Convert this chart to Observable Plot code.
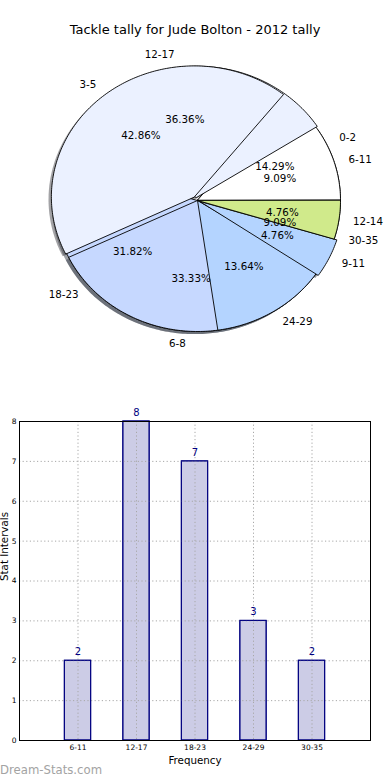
<!DOCTYPE html>
<html><head><meta charset="utf-8">
<script src="https://cdn.jsdelivr.net/npm/d3@7"></script>
<script src="https://cdn.jsdelivr.net/npm/@observablehq/plot@0.6"></script>
<style>
body{margin:0;background:#fff;font-family:"DejaVu Sans",sans-serif;}
#wrap{position:relative;width:390px;height:780px;overflow:hidden;background:#fff;}
#title{position:absolute;left:0;top:21px;width:390px;text-align:center;font-size:13px;line-height:18px;color:#000;}
#pie{position:absolute;left:0;top:40px;}
#bar{position:absolute;left:0;top:380px;}
#mark{position:absolute;left:0;top:763px;font-size:11.7px;line-height:14px;color:#a3a3a3;}
</style></head>
<body>
<div id="wrap">
  <div id="title">Tackle tally for Jude Bolton - 2012 tally</div>
  <div id="pie"></div>
  <div id="bar"></div>
  <div id="mark">Dream-Stats.com</div>
</div>
<script>
// ---- data ----
const tallyLabels = ["6-11", "12-17", "18-23", "24-29", "30-35"];
const tallyCounts = [2, 8, 7, 3, 2];
const groupLabels = ["0-2", "3-5", "6-8", "9-11", "12-14"];
const groupCounts = [3, 9, 7, 1, 1];
const sliceColors = ["#ffffff", "#ebf1ff", "#c6d8ff", "#b4d4ff", "#d0ea8b"];
const tallyExplode = [0, 0.025, 0, 0, 0];
const groupExplode = [0, 0.035, 0, 0.02, 0];
const yTicks = [0, 1, 2, 3, 4, 5, 6, 7, 8];

// ---- pie geometry (unit radius, matplotlib-style: CCW from 3 o'clock) ----
const rx = 143, ry = 131, pieW = 390, pieH = 340, cx = 197, cy = 160;
function buildWedges(labels, counts, explode, tag) {
  const total = d3.sum(counts);
  let acc = 0;
  return counts.map((c, i) => {
    const t1 = acc / total * 360; acc += c; const t2 = acc / total * 360;
    const mid = (t1 + t2) / 2 * Math.PI / 180;
    const e = explode[i];
    const ox = e * Math.cos(mid), oy = e * Math.sin(mid);
    const n = Math.max(2, Math.ceil(t2 - t1));
    const pts = [[ox, oy]];
    for (let k = 0; k <= n; k++) {
      const t = (t1 + (t2 - t1) * k / n) * Math.PI / 180;
      pts.push([ox + Math.cos(t), oy + Math.sin(t)]);
    }
    return {
      key: tag + i, label: labels[i], color: sliceColors[i % sliceColors.length], pts,
      lx: ox + 1.1 * Math.cos(mid), ly: oy + 1.1 * Math.sin(mid),
      px: ox + 0.6 * Math.cos(mid), py: oy + 0.6 * Math.sin(mid),
      pct: (100 * c / total).toFixed(2) + "%"
    };
  });
}
const A = buildWedges(tallyLabels, tallyCounts, tallyExplode, "A");
const B = buildWedges(groupLabels, groupCounts, groupExplode, "B");
const drawOrder = [A[0], B[0], A[1], A[2], B[1], B[2], A[3], A[4], B[3], B[4]];
const allW = A.concat(B);

const shadowMarks = drawOrder.map(w => {
  const c = d3.rgb(w.color);
  const sc = d3.rgb(c.r * 0.3, c.g * 0.3, c.b * 0.3).formatHex();
  return Plot.line(w.pts.map(([x, y]) => [x - 0.02, y - 0.02]),
    {x: d => d[0], y: d => d[1], curve: "linear-closed", fill: sc, fillOpacity: 0.5, stroke: "none"});
});
const wedgeMarks = drawOrder.map(w =>
  Plot.line(w.pts, {x: d => d[0], y: d => d[1], curve: "linear-closed", fill: w.color,
    stroke: "black", strokeWidth: 0.9, strokeLinejoin: "miter"}));

const pie = Plot.plot({
  width: pieW, height: pieH,
  marginTop: 0, marginBottom: 0, marginLeft: 0, marginRight: 0,
  x: {domain: [-cx / rx, (pieW - cx) / rx], axis: null},
  y: {domain: [-(pieH - cy) / ry, cy / ry], axis: null},
  style: {fontFamily: "DejaVu Sans", background: "white", overflow: "visible"},
  marks: [
    ...shadowMarks,
    ...wedgeMarks,
    Plot.text(allW.filter(w => w.lx >= 0), {x: "lx", y: "ly", text: "label", textAnchor: "start", fontSize: 10.3, fill: "black"}),
    Plot.text(allW.filter(w => w.lx < 0), {x: "lx", y: "ly", text: "label", textAnchor: "end", fontSize: 10.3, fill: "black"}),
    Plot.text(allW, {x: "px", y: "py", text: "pct", fontSize: 10.3, fill: "black"})
  ]
});
document.getElementById("pie").appendChild(pie);

// ---- bar chart ----
const bars = tallyLabels.map((b, i) => ({bin: b, pos: i + 1, value: tallyCounts[i]}));
const positions = bars.map(d => d.pos);
const gridStyle = {stroke: "#a8a8a8", strokeOpacity: 1, strokeDasharray: "1.2,2.4", strokeWidth: 1};
const bar = Plot.plot({
  width: 390, height: 400,
  marginTop: 41, marginBottom: 40, marginLeft: 19, marginRight: 20,
  x: {domain: [0, 6]},
  y: {domain: [0, 8]},
  style: {fontFamily: "DejaVu Sans", background: "white", overflow: "visible"},
  marks: [
    Plot.rect(bars, {x1: d => d.pos - 0.225, x2: d => d.pos + 0.225, y1: 0, y2: "value",
      fill: "navy", fillOpacity: 0.2, stroke: "navy", strokeWidth: 1}),
    Plot.gridX({ticks: positions, ...gridStyle}),
    Plot.gridY({ticks: yTicks, ...gridStyle}),
    Plot.rect(bars, {x1: d => d.pos - 0.225, x2: d => d.pos + 0.225, y1: 0, y2: "value",
      fill: "none", stroke: "navy", strokeWidth: 1}),
    Plot.text(bars, {x: "pos", y: "value", text: d => String(d.value), dy: -9, fill: "navy", fontSize: 10}),
    Plot.frame({stroke: "black", strokeWidth: 1}),
    Plot.axisY({ticks: yTicks, tickSize: 0, tickPadding: 3, label: null, fontSize: 7.5}),
    Plot.axisX({ticks: positions, tickFormat: d => tallyLabels[d - 1], tickSize: 0, tickPadding: 4, label: null, fontSize: 7.5}),
    Plot.text(["Frequency"], {frameAnchor: "bottom", lineAnchor: "middle", text: d => d, dy: 20, fontSize: 10.3, fill: "black"}),
    Plot.text(["Stat Intervals"], {frameAnchor: "left", lineAnchor: "middle", text: d => d, dx: -15, rotate: -90, fontSize: 10.3, fill: "black"})
  ]
});
document.getElementById("bar").appendChild(bar);
</script>
</body></html>
